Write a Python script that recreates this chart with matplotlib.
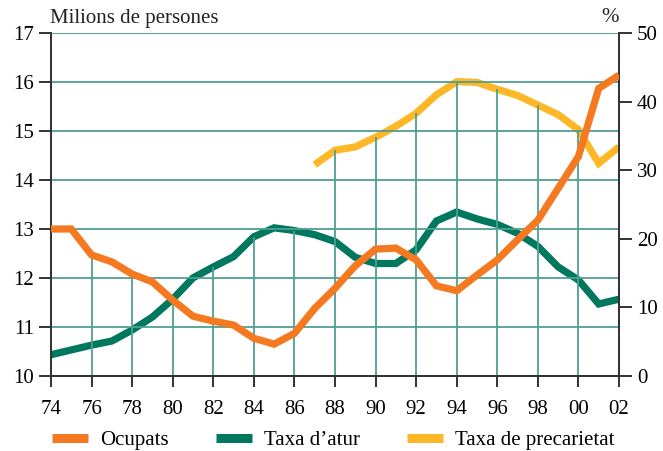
import matplotlib
matplotlib.use("Agg")
import matplotlib.pyplot as plt
from matplotlib.lines import Line2D
import numpy as np

plt.rcParams['font.family'] = ['Liberation Serif', 'DejaVu Serif']

years = list(range(1974, 2003))
year_labels = ['74', '76', '78', '80', '82', '84', '86', '88', '90', '92', '94', '96', '98', '00', '02']

ocupats = [13.0, 13.0, 12.47, 12.33, 12.08, 11.92, 11.55, 11.22, 11.12, 11.04,
           10.77, 10.65, 10.87, 11.38, 11.79, 12.25, 12.59, 12.61, 12.37, 11.84,
           11.74, 12.06, 12.37, 12.78, 13.18, 13.83, 14.48, 15.87, 16.14]

taxa_atur = [3.1, 3.8, 4.5, 5.1, 6.7, 8.6, 11.2, 14.3, 15.9, 17.4,
             20.3, 21.6, 21.2, 20.6, 19.6, 17.3, 16.4, 16.4, 18.4, 22.6,
             23.9, 22.9, 22.1, 20.8, 18.9, 15.9, 14.0, 10.5, 11.2]

prec_years = list(range(1987, 2003))
taxa_precarietat = [30.8, 32.9, 33.4, 34.8, 36.4, 38.3, 41.0, 42.9, 42.8, 41.8,
                    40.9, 39.5, 38.1, 35.9, 31.0, 33.4]

series_names = ['Ocupats', 'Taxa d\u2019atur', 'Taxa de precarietat']
colors = ['#f47920', '#00775f', '#fdb727']
grid_color = '#4f9f93'

fig = plt.figure(figsize=(6.63, 4.51), dpi=100)
ax = fig.add_axes([51/663, 1-376/451, (619-51)/663, (376-33)/451])
ax2 = ax.twinx()

ax.set_xlim(1974, 2002)
ax.set_ylim(10, 17)
ax2.set_ylim(0, 50)

# horizontal gridlines
for yv in range(11, 18):
    ax.axhline(yv, color=grid_color, lw=1.3, zorder=0)

# vertical gridlines up to highest curve at each even year
scale = 7 / 50
prec_map = dict(zip(prec_years, taxa_precarietat))
for i, yr in enumerate(years):
    if yr % 2 == 0 and 1974 < yr < 2002:
        top = max(ocupats[i], 10 + taxa_atur[i] * scale,
                  10 + prec_map.get(yr, 0) * scale)
        ax.vlines(yr, 10, top, color=grid_color, lw=1.3, zorder=0)

lw = 5.2
ax2.plot(prec_years, taxa_precarietat, color=colors[2], lw=lw,
         solid_joinstyle='miter', solid_capstyle='butt', zorder=3)
ax2.plot(years, taxa_atur, color=colors[1], lw=lw,
         solid_joinstyle='miter', solid_capstyle='butt', zorder=4)
ax.plot(years, ocupats, color=colors[0], lw=lw,
        solid_joinstyle='miter', solid_capstyle='butt', zorder=5)

ax.set_zorder(ax2.get_zorder() + 1)
ax.patch.set_visible(False)

# spines
for a in (ax, ax2):
    a.spines['top'].set_visible(False)
    for s in ('left', 'right', 'bottom'):
        a.spines[s].set_color('#333333')
        a.spines[s].set_linewidth(1.4)

fs = 15
ax.set_xticks(list(range(1974, 2003, 2)))
ax.set_xticklabels(year_labels, fontsize=fs)
ax.set_yticks(range(10, 18))
ax.set_yticklabels([str(v) for v in range(10, 18)], fontsize=fs)
ax.tick_params(axis='x', direction='out', length=8, width=1.4, color='#333333', pad=9)
ax.tick_params(axis='y', direction='out', length=8.5, width=1.4, color='#333333', pad=3.5)
ax2.set_yticks(range(0, 51, 10))
ax2.set_yticklabels([str(v) for v in range(0, 51, 10)], fontsize=fs)
ax2.tick_params(axis='y', direction='out', length=9, width=1.4, color='#333333', pad=4)

fig.text(50/663, 1-18/451, 'Milions de persones', fontsize=fs, ha='left', va='center',
         color='#222222')
fig.text(610/663, 1-18/451, '%', fontsize=fs, ha='center', va='center', color='#222222')

handles = [Line2D([0], [0], color=c, lw=6.5, solid_capstyle='butt') for c in colors]
fig.legend(handles, series_names, loc='center left', bbox_to_anchor=(52/663, 1-440.5/451),
           ncol=3, frameon=False, fontsize=fs, handlelength=1.73, handletextpad=0.58,
           columnspacing=2.25, borderpad=0, borderaxespad=0)

fig.savefig('out.png', dpi=100)
